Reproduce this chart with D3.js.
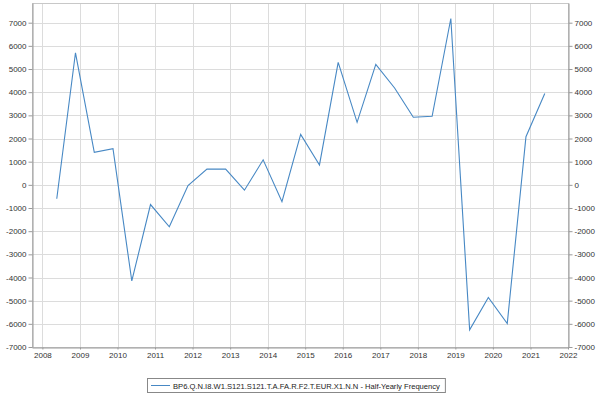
<!DOCTYPE html>
<html>
<head>
<meta charset="utf-8">
<script src="https://cdn.jsdelivr.net/npm/d3@7"></script>
<style>
  body { margin: 0; background: #fff; }
  text { font-family: "Liberation Sans", Arial, sans-serif; }
</style>
</head>
<body>
<div id="viz"></div>
<script>
const width = 600;
const height = 396;
const margin = {top: 3, right: 32, bottom: 49, left: 32};

const lineColor = '#4788c4';
const gridColor = '#dcdcdc';
const axisColor = '#9a9a9a';

// Half-yearly periods and values
const periods = [
  '2008-H1', '2008-H2', '2009-H1', '2009-H2', '2010-H1', '2010-H2',
  '2011-H1', '2011-H2', '2012-H1', '2012-H2', '2013-H1', '2013-H2',
  '2014-H1', '2014-H2', '2015-H1', '2015-H2', '2016-H1', '2016-H2',
  '2017-H1', '2017-H2', '2018-H1', '2018-H2', '2019-H1', '2019-H2',
  '2020-H1', '2020-H2', '2021-H1'
];
const values = [
  -600, 5700, 1400, 1560, -4150, -850,
  -1810, -30, 680, 680, -230, 1080,
  -730, 2180, 860, 5290, 2700, 5200,
  4180, 2920, 2960, 7180, -6260, -4860,
  -5990, 2080, 3940
];
const yTicks = [-7000, -6000, -5000, -4000, -3000, -2000, -1000, 0,
  1000, 2000, 3000, 4000, 5000, 6000, 7000];
const xTicks = [2008, 2009, 2010, 2011, 2012, 2013, 2014, 2015,
  2016, 2017, 2018, 2019, 2020, 2021, 2022];
const seriesName = 'BP6.Q.N.I8.W1.S121.S121.T.A.FA.R.F2.T.EUR.X1.N.N - Half-Yearly Frequency';

// plotted positions of a half-year: mid May and mid November
const periodDate = p => {
  const [y, h] = p.split('-');
  return h === 'H1' ? new Date(+y, 4, 20) : new Date(+y, 10, 18);
};
const data = periods.map((p, i) => ({date: periodDate(p), value: values[i]}));

const svg = d3.select('#viz')
  .append('svg')
    .attr('width', width)
    .attr('height', height);

const xScale = d3.scaleTime()
  .domain([new Date(2007, 8, 22), new Date(2022, 0, 1)])
  .range([margin.left, width - margin.right]);
const yScale = d3.scaleLinear()
  .domain([-7000, 7850])
  .range([height - margin.bottom, margin.top]);

// Grid
svg.append('g')
  .selectAll('line')
  .data(yTicks)
  .join('line')
    .attr('x1', margin.left)
    .attr('x2', width - margin.right)
    .attr('y1', d => Math.round(yScale(d)) + 0.5)
    .attr('y2', d => Math.round(yScale(d)) + 0.5)
    .attr('stroke', gridColor);
svg.append('g')
  .selectAll('line')
  .data(xTicks)
  .join('line')
    .attr('x1', d => Math.round(xScale(new Date(d, 0, 1))) + 0.5)
    .attr('x2', d => Math.round(xScale(new Date(d, 0, 1))) + 0.5)
    .attr('y1', margin.top)
    .attr('y2', height - margin.bottom)
    .attr('stroke', gridColor);

// Frame
svg.append('rect')
  .attr('x', margin.left + 0.5)
  .attr('y', margin.top + 0.5)
  .attr('width', width - margin.left - margin.right)
  .attr('height', height - margin.top - margin.bottom)
  .attr('fill', 'none')
  .attr('stroke', '#c8c8c8');

// Axes - plain integers with ascii hyphen, like the source
const plain = d => String(d);
const styleAxis = g => {
  g.select('.domain').attr('stroke', axisColor);
  g.selectAll('.tick line').attr('stroke', axisColor);
  g.selectAll('.tick text')
    .attr('fill', '#333')
    .style('font-size', '8px');
};
svg.append('g')
  .attr('transform', `translate(${margin.left + 0.5},0)`)
  .call(d3.axisLeft(yScale).tickValues(yTicks).tickFormat(plain)
    .tickSize(4).tickSizeOuter(0).tickPadding(2))
  .call(styleAxis);
svg.append('g')
  .attr('transform', `translate(${width - margin.right + 0.5},0)`)
  .call(d3.axisRight(yScale).tickValues(yTicks).tickFormat(plain)
    .tickSize(4).tickSizeOuter(0).tickPadding(2))
  .call(styleAxis);
svg.append('g')
  .attr('transform', `translate(0,${height - margin.bottom + 0.5})`)
  .call(d3.axisBottom(xScale)
    .tickValues(xTicks.map(d => new Date(d, 0, 1)))
    .tickFormat(d3.timeFormat('%Y'))
    .tickSize(2).tickSizeOuter(0).tickPadding(3))
  .call(styleAxis);

// Series line
const line = d3.line()
  .x(d => xScale(d.date))
  .y(d => yScale(d.value));
svg.append('path')
  .datum(data)
  .attr('d', line)
  .attr('fill', 'none')
  .attr('stroke', lineColor)
  .attr('stroke-width', 1.1);

// Legend
const legend = svg.append('g')
  .attr('transform', `translate(147, 378)`);
const legendBox = legend.append('rect')
  .attr('x', 0.5)
  .attr('y', 0.5)
  .attr('height', 14)
  .attr('fill', '#fff')
  .attr('stroke', '#888');
legend.append('line')
  .attr('x1', 4)
  .attr('x2', 23)
  .attr('y1', 7.5)
  .attr('y2', 7.5)
  .attr('stroke', lineColor);
const legendText = legend.append('text')
  .attr('x', 26)
  .attr('y', 10.5)
  .attr('fill', '#222')
  .style('font-size', '7.6px')
  .text(seriesName);
legendBox.attr('width', 26 + legendText.node().getComputedTextLength() + 5);
</script>
</body>
</html>
